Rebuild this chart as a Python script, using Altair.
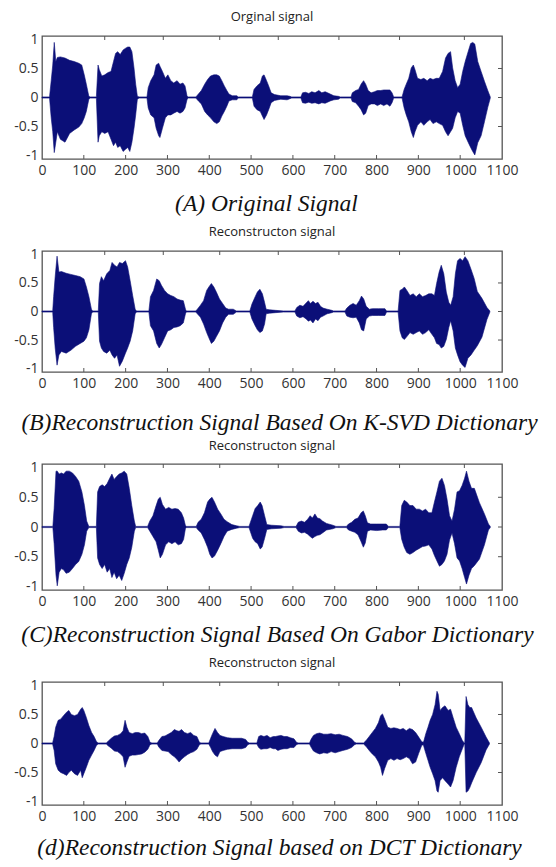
import altair as alt
import pandas as pd

X_TICKS = [0, 100, 200, 300, 400, 500, 600, 700, 800, 900, 1000, 1100]
Y_TICKS = [-1, -0.5, 0, 0.5, 1]
TOP_TICKS = [150, 290, 425, 565, 710, 855, 1010]
RIGHT_TICKS = [-0.5, 0, 0.5]

PANEL_TITLES = ["Orginal signal", "Reconstructon signal", "Reconstructon signal", "Reconstructon signal"]
CAPTIONS = [
    "(A) Original Signal",
    "(B)Reconstruction Signal Based On K-SVD Dictionary",
    "(C)Reconstruction Signal Based On Gabor Dictionary",
    "(d)Reconstruction Signal based on DCT Dictionary",
]

# envelope of each waveform: (time, upper amplitude, lower amplitude)
WAVE_A = [
    (0, .01, -.01), (18, .01, -.01), (22, .29, -.35), (25.7, .56, -.59), (29.3, .95, -.95), (33, .62, -.77),
    (36.7, .69, -.59), (44, .70, -.72), (55, .68, -.77), (66, .64, -.62), (77, .62, -.56), (88, .59, -.51),
    (95, .56, -.45), (101, .39, -.35), (106, .23, -.24), (112, .02, -.03), (115, .01, -.01),
    (130, .01, -.01), (134, .56, -.77), (137, .48, -.66), (143, .37, -.59), (150, .39, -.62), (158, .43, -.59),
    (165, .45, -.72), (171, .62, -.83), (176, .76, -.77), (181, .79, -.86), (187, .74, -.83), (194, .82, -.93),
    (200, .85, -.89), (205, .87, -.86), (210, .87, -.93), (215, .79, -.77), (220, .51, -.53), (224, .23, -.30),
    (228, .02, -.03), (232, .01, -.01),
    (251, .01, -.01), (254, .17, -.18), (260, .29, -.30), (268, .39, -.35), (273, .56, -.53), (279, .59, -.66),
    (282, .54, -.69), (288, .45, -.53), (295, .33, -.35), (301, .39, -.30), (308, .29, -.30), (315, .25, -.27),
    (323, .29, -.24), (330, .23, -.27), (337, .25, -.24), (342, .20, -.18), (347, .02, -.03), (350, .01, -.01),
    (368, .01, -.01), (374, .06, -.06), (381, .12, -.11), (389, .23, -.24), (396, .31, -.30), (403, .37, -.35),
    (411, .39, -.42), (418, .39, -.45), (424, .37, -.42), (430, .29, -.32), (436, .20, -.24), (442, .12, -.15),
    (447, .06, -.06), (455, .03, -.04), (466, .03, -.04), (469, .01, -.01),
    (503, .01, -.01), (507, .14, -.15), (514, .20, -.21), (522, .25, -.24), (527, .37, -.32), (531, .39, -.38),
    (537, .29, -.30), (542, .20, -.21), (548, .08, -.09), (556, .05, -.05), (571, .03, -.03), (586, .03, -.04),
    (593, .02, -.02), (597, .01, -.01),
    (619, .01, -.01), (623, .08, -.09), (630, .09, -.10), (638, .07, -.08), (645, .10, -.10), (653, .08, -.09),
    (662, .12, -.11), (669, .08, -.09), (677, .10, -.10), (683, .08, -.08), (689, .06, -.06), (698, .03, -.04),
    (709, .02, -.03), (713, .01, -.01),
    (739, .01, -.01), (742, .08, -.07), (750, .12, -.09), (757, .14, -.15), (763, .23, -.21), (769, .29, -.30),
    (774, .23, -.27), (780, .12, -.14), (787, .08, -.11), (795, .10, -.11), (802, .12, -.14), (810, .12, -.11),
    (817, .13, -.14), (825, .13, -.11), (832, .13, -.15), (837, .08, -.09), (841, .01, -.01),
    (861, .01, -.01), (866, .14, -.18), (871, .23, -.30), (877, .33, -.42), (883, .51, -.59), (888, .56, -.69),
    (892, .48, -.59), (898, .33, -.48), (906, .31, -.42), (913, .33, -.48), (921, .29, -.42), (928, .33, -.38),
    (935, .31, -.45), (943, .33, -.42), (950, .33, -.45), (958, .45, -.48), (965, .68, -.59), (971, .76, -.66),
    (977, .79, -.59), (982, .51, -.53), (988, .29, -.35), (994, .17, -.24), (1000, .23, -.27), (1006, .45, -.48),
    (1012, .62, -.66), (1019, .79, -.77), (1025, .93, -.86), (1030, .95, -.93), (1035, .92, -.99), (1042, .62, -.78),
    (1050, .45, -.66), (1058, .28, -.42), (1066, .12, -.17), (1072, .01, -.01),
]

WAVE_B = [
    (0, .01, -.01), (25.6, .01, -.01), (27.8, .26, -.28), (31.5, .61, -.64), (36, .97, -.94), (40.5, .69, -.76),
    (46.5, .70, -.70), (57.7, .67, -.73), (68.9, .65, -.68), (80.1, .63, -.61), (91.3, .61, -.56), (100.3, .57, -.52),
    (106.2, .43, -.46), (112.2, .26, -.32), (118.2, .04, -.04), (121, .01, -.01),
    (134.6, .01, -.01), (137.6, .49, -.52), (142, .61, -.64), (147.3, .54, -.70), (154.8, .66, -.73), (162.3, .72, -.68),
    (167.5, .86, -.76), (173.5, .81, -.82), (179.4, .78, -.76), (185.4, .86, -.96), (192.1, .84, -.87), (199.6, .89, -.73),
    (204.8, .78, -.64), (210.8, .54, -.52), (216.8, .28, -.34), (222.8, .04, -.04), (226, .01, -.01),
    (255.6, .01, -.01), (259.4, .26, -.25), (266.8, .37, -.34), (274.3, .57, -.56), (280.3, .54, -.64), (285.5, .46, -.58),
    (293, .37, -.46), (300.5, .31, -.34), (308, .28, -.32), (315.4, .26, -.28), (322.9, .22, -.27), (330.4, .20, -.25),
    (337.9, .19, -.20), (343.1, .04, -.04), (345, .01, -.01),
    (367.7, .01, -.01), (371.4, .04, -.04), (378.9, .11, -.10), (386.4, .19, -.22), (393.8, .37, -.37), (399, .43, -.46),
    (405, .49, -.56), (411, .43, -.52), (417, .34, -.44), (424.4, .22, -.34), (431.9, .14, -.20), (439.4, .06, -.10),
    (446.1, .04, -.05), (457.3, .04, -.05), (464.8, .01, -.01),
    (497, .01, -.01), (502, .13, -.13), (509.8, .26, -.25), (515, .34, -.32), (521, .39, -.37), (527, .31, -.34),
    (532.2, .16, -.22), (536, .04, -.04), (543.4, .03, -.03), (558.4, .02, -.02), (577, .01, -.01),
    (604.8, .01, -.01), (609.2, .07, -.08), (616.7, .11, -.11), (624.2, .09, -.09), (631.7, .15, -.13), (637, .19, -.17),
    (642, .14, -.15), (648, .18, -.20), (654, .14, -.13), (660, .16, -.16), (666, .09, -.10), (672, .06, -.08),
    (681.8, .04, -.04), (693, .02, -.02), (697, .01, -.01),
    (724.4, .01, -.01), (729, .06, -.08), (736.4, .11, -.10), (743.9, .14, -.11), (751.4, .11, -.10), (758.8, .19, -.20),
    (764, .27, -.32), (769.3, .22, -.34), (775.3, .09, -.13), (782.8, .04, -.08), (790, .05, -.07), (805, .05, -.07),
    (820, .05, -.07), (824, .01, -.01),
    (851.6, .01, -.01), (856, .37, -.34), (861.3, .39, -.46), (866.6, .43, -.49), (872.5, .37, -.44), (880, .28, -.37),
    (887.5, .31, -.40), (895, .26, -.37), (902.4, .31, -.34), (909.9, .26, -.40), (917.4, .28, -.37), (924.9, .31, -.32),
    (932.4, .31, -.40), (938.4, .28, -.46), (943.6, .49, -.56), (949.6, .69, -.58), (954.8, .81, -.64), (960.8, .66, -.61),
    (966.8, .34, -.49), (972.8, .16, -.28), (977.3, .11, -.16), (983.2, .26, -.34), (988.5, .66, -.64), (993.7, .89, -.76),
    (999.7, .93, -.88), (1005.7, .89, -.94), (1011.7, .96, -.98), (1018.4, .89, -.82), (1025.9, .74, -.76),
    (1033.4, .58, -.68), (1041, .35, -.60), (1052, .23, -.45), (1064, .07, -.14), (1071, .01, -.01),
]

WAVE_C = [
    (0, .01, -.01), (26, .01, -.01), (29, .31, -.28), (33.5, .94, -.81), (36.5, .94, -.99), (41, .89, -.76),
    (46.4, .91, -.70), (51.6, .89, -.72), (57.7, .94, -.78), (65.2, .94, -.76), (72.8, .91, -.70), (80.3, .85, -.63),
    (87.9, .77, -.58), (95.4, .59, -.46), (101.5, .36, -.30), (106.8, .10, -.07), (112, .01, -.01),
    (130, .01, -.01), (133, .59, -.52), (137.7, .68, -.63), (143.8, .71, -.70), (149.8, .68, -.63), (155.8, .73, -.76),
    (161.9, .82, -.70), (167.2, .89, -.85), (172.5, .80, -.76), (178.5, .85, -.87), (184.5, .89, -.81), (190.6, .91, -.90),
    (196.6, .94, -.78), (202.7, .89, -.63), (208.7, .65, -.52), (214.7, .36, -.34), (220.8, .10, -.07), (224, .01, -.01),
    (252.5, .01, -.01), (257.8, .10, -.07), (265.3, .19, -.16), (272.9, .36, -.25), (278.2, .47, -.39), (282.7, .50, -.52),
    (288, .38, -.46), (295.5, .30, -.30), (303, .33, -.25), (310.6, .30, -.28), (318.2, .31, -.25), (325.7, .30, -.30),
    (333.3, .24, -.28), (338.6, .15, -.21), (343.1, .02, -.02), (346, .01, -.01),
    (368.8, .01, -.01), (373.3, .08, -.05), (380.8, .13, -.10), (388.4, .24, -.21), (396, .42, -.34), (401.3, .47, -.46),
    (406.5, .50, -.52), (412.5, .42, -.49), (420.1, .30, -.39), (427.6, .22, -.28), (435.2, .13, -.16), (442.7, .09, -.07),
    (454, .04, -.04), (465.4, .02, -.02), (473, .01, -.01),
    (495, .01, -.01), (503.7, .19, -.19), (509.7, .31, -.25), (515.8, .36, -.28), (521.8, .42, -.37), (526.3, .36, -.34),
    (532.3, .19, -.19), (537.6, .04, -.04), (548.8, .03, -.03), (571.4, .02, -.02), (579, .01, -.01),
    (607.5, .01, -.01), (612.8, .08, -.07), (620.3, .10, -.10), (627.8, .08, -.09), (635.3, .13, -.12), (641.3, .19, -.16),
    (646.6, .15, -.19), (652.6, .22, -.16), (658.6, .15, -.14), (664.6, .14, -.13), (670.7, .10, -.10), (680.4, .06, -.05),
    (695.5, .03, -.03), (703, .01, -.01),
    (727.8, .01, -.01), (733, .05, -.05), (740.6, .08, -.07), (748, .13, -.09), (755.6, .15, -.13), (763.2, .24, -.25),
    (768.4, .27, -.34), (773, .19, -.27), (778.2, .07, -.07), (785.7, .05, -.05), (800, .05, -.06), (815, .05, -.05),
    (823.3, .05, -.05), (828.6, .01, -.01),
    (855.7, .01, -.01), (860.2, .36, -.21), (866.2, .45, -.34), (872.2, .42, -.43), (879.7, .36, -.46), (887.2, .36, -.43),
    (894.8, .30, -.39), (902.3, .30, -.36), (909.8, .27, -.33), (917.3, .30, -.32), (924.8, .24, -.30), (932.4, .24, -.37),
    (938.4, .42, -.48), (944.4, .59, -.57), (950.4, .77, -.66), (956.4, .82, -.63), (962.4, .70, -.57), (968.5, .47, -.46),
    (974.5, .19, -.22), (980.5, .10, -.10), (986.5, .30, -.28), (992.5, .59, -.52), (998.5, .61, -.57), (1004.6, .70, -.70),
    (1010.6, .82, -.85), (1015.1, .94, -.96), (1021.1, .77, -.81), (1027.1, .65, -.70), (1033.9, .65, -.65),
    (1046, .41, -.54), (1058, .22, -.30), (1067.6, .05, -.05), (1072, .01, -.01),
]

WAVE_D = [
    (0, .01, -.01), (25.3, .01, -.01), (29, .12, -.12), (32.7, .28, -.35), (38.7, .40, -.46), (44.7, .42, -.50),
    (51.4, .48, -.52), (58.9, .54, -.55), (64.1, .57, -.50), (70.1, .50, -.46), (77.6, .48, -.52), (85, .50, -.55),
    (92.5, .59, -.46), (96.2, .62, -.59), (100, .57, -.52), (106, .45, -.41), (112, .31, -.29), (118.6, .19, -.20),
    (124.6, .12, -.12), (129.8, .04, -.04), (134, .01, -.01),
    (153.7, .01, -.01), (158.2, .04, -.04), (165.7, .09, -.08), (173.2, .13, -.13), (180.6, .14, -.14), (188.1, .17, -.18),
    (194, .22, -.23), (198.6, .40, -.41), (203, .28, -.32), (208.3, .19, -.22), (215.8, .17, -.20), (223.2, .19, -.20),
    (230.7, .19, -.19), (238.2, .17, -.18), (245.7, .18, -.15), (253.1, .12, -.10), (258.3, .02, -.02), (262.8, .01, -.01),
    (275.5, .01, -.01), (279.2, .05, -.06), (286.7, .12, -.12), (294.2, .13, -.13), (301.7, .16, -.14), (309.1, .19, -.19),
    (316.6, .24, -.23), (322.6, .22, -.27), (327.8, .21, -.32), (333.8, .24, -.27), (340.5, .19, -.23), (348, .17, -.19),
    (355.4, .19, -.16), (362.9, .14, -.14), (370.4, .12, -.10), (376.4, .02, -.02), (380, .01, -.01),
    (398.8, .01, -.01), (403.3, .09, -.07), (407.8, .17, -.14), (413.7, .26, -.20), (419.7, .19, -.23), (425.7, .14, -.14),
    (433.1, .12, -.12), (443.6, .10, -.10), (454.8, .09, -.09), (466, .09, -.09), (477.3, .09, -.09), (487, .07, -.07),
    (492.1, .02, -.02), (496, .01, -.01),
    (513.8, .01, -.01), (518.2, .12, -.07), (523.4, .14, -.10), (530.8, .12, -.09), (538.2, .14, -.09), (545.6, .10, -.07),
    (553, .12, -.09), (558.2, .12, -.09), (564.1, .13, -.12), (571.5, .14, -.10), (578.9, .12, -.09), (586.3, .12, -.09),
    (593.7, .10, -.07), (602.6, .08, -.07), (608.5, .02, -.02), (612.2, .01, -.01),
    (639.6, .01, -.01), (644, .08, -.07), (649.2, .14, -.13), (656.6, .17, -.16), (664, .18, -.18), (673.6, .16, -.16),
    (682.5, .16, -.17), (691.4, .17, -.14), (701, .15, -.16), (710.6, .16, -.14), (719.5, .14, -.12), (730.6, .12, -.10),
    (740.2, .08, -.07), (747.6, .02, -.02), (751.3, .01, -.01),
    (769, .01, -.01), (775, .05, -.05), (782.4, .12, -.12), (789.8, .19, -.18), (797.2, .26, -.23), (804.6, .36, -.32),
    (809.8, .48, -.41), (814.2, .51, -.55), (819.4, .42, -.43), (826.8, .28, -.29), (834.2, .26, -.26), (841.6, .27, -.29),
    (849, .26, -.26), (856.4, .24, -.28), (863.8, .26, -.26), (871.2, .22, -.23), (878.6, .26, -.26), (886, .24, -.35),
    (893.4, .19, -.32), (900.8, .11, -.17), (908.2, .03, -.03), (911.9, .02, -.02),
    (913.4, .05, -.06), (917.8, .17, -.17), (923, .28, -.29), (928.2, .40, -.41), (934.1, .50, -.52), (940, .67, -.64),
    (944.5, .90, -.82), (947.4, .85, -.84), (951.9, .57, -.64), (957.8, .62, -.59), (963.7, .65, -.64), (971.1, .57, -.70),
    (977, .59, -.75), (983, .45, -.64), (990.4, .28, -.41), (997.8, .17, -.23), (1005.2, .05, -.09), (1009.7, .01, -.01),
    (1011, .01, -.01), (1014.1, .81, -.84), (1018.5, .67, -.82), (1023, .62, -.76), (1027.3, .62, -.68),
    (1038.3, .44, -.50), (1050.2, .28, -.33), (1062, .11, -.11), (1070, .01, -.01),
]

WAVES = [WAVE_A, WAVE_B, WAVE_C, WAVE_D]

NAVY = "#0b0f78"
W = 460
HEIGHTS = [123, 121, 126, 123]
CAP_X = [224, 237, 235, 237]
CAP_Y = [51, 57, 51, 49]


def panel(wave, title, caption, h, cap_x, cap_y):
    df = pd.DataFrame(wave, columns=["t", "top", "bot"])
    xs = alt.Scale(domain=[0, 1100], nice=False, zero=False)
    ys = alt.Scale(domain=[-1.06, 1.06], nice=False, zero=False)
    x_axis = alt.Axis(
        values=X_TICKS, format="d", domain=False, ticks=False, grid=False,
        labelPadding=4, labelFontSize=14, labelFont="Open Sans", labelColor="#333",
        labelFlush=False, labelOverlap=False,
        title=caption, titleFont="Liberation Serif", titleFontStyle="italic",
        titleFontWeight="normal", titleFontSize=23.5, titleColor="#111",
        titleX=cap_x, titleY=cap_y, titleBaseline="alphabetic", titleAlign="center",
    )
    y_axis = alt.Axis(
        values=Y_TICKS, labelExpr="toString(datum.value)", domain=False, ticks=False,
        grid=False, labelPadding=4, labelFontSize=14, labelFont="Open Sans",
        labelColor="#333", labelOverlap=False, title=None,
    )
    wave_layer = alt.Chart(df).mark_area(
        color=NAVY, stroke=NAVY, strokeWidth=0.6, opacity=1
    ).encode(
        x=alt.X("t:Q", scale=xs, axis=x_axis),
        y=alt.Y("top:Q", scale=ys, axis=y_axis),
        y2="bot:Q",
    )
    bottom_ticks = alt.Chart(pd.DataFrame({"t": X_TICKS[1:-1]})).mark_rule(
        color="#555", strokeWidth=1
    ).encode(x=alt.X("t:Q", scale=xs, axis=x_axis), y=alt.value(h), y2=alt.value(h - 4))
    top_ticks = alt.Chart(pd.DataFrame({"t": TOP_TICKS})).mark_rule(
        color="#555", strokeWidth=1
    ).encode(x=alt.X("t:Q", scale=xs, axis=x_axis), y=alt.value(0), y2=alt.value(4))
    right_ticks = alt.Chart(pd.DataFrame({"top": RIGHT_TICKS})).mark_rule(
        color="#555", strokeWidth=1
    ).encode(y=alt.Y("top:Q", scale=ys, axis=y_axis), x=alt.value(W), x2=alt.value(W - 4))
    return alt.layer(wave_layer, bottom_ticks, top_ticks, right_ticks).properties(
        width=W, height=h,
        title=alt.TitleParams(
            title, fontSize=13, font="Open Sans", fontWeight="normal",
            color="#222", offset=-5, baseline="bottom", anchor="middle",
        ),
    )


panels = [
    panel(WAVES[i], PANEL_TITLES[i], CAPTIONS[i], HEIGHTS[i], CAP_X[i], CAP_Y[i])
    for i in range(4)
]

chart = alt.vconcat(*panels, spacing=92).properties(
    bounds="flush", padding={"left": 5, "top": 2, "right": 4, "bottom": 0}
).configure_view(stroke="#555", strokeWidth=1.3)

chart.save("out.html", embed_options={"renderer": "svg", "actions": False})
